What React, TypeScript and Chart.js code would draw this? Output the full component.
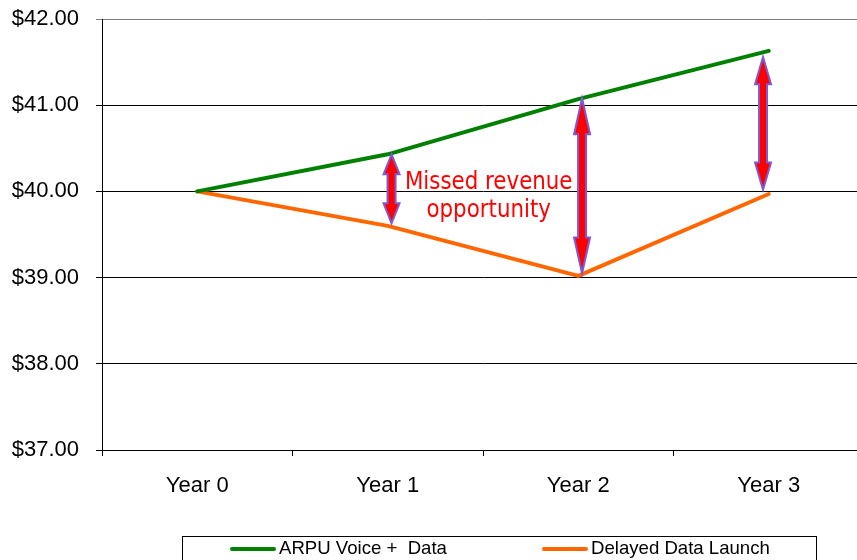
import React, { useEffect, useRef } from "react";
import { Chart, registerables } from "chart.js";

Chart.register(...registerables);

const categories = ["Year 0", "Year 1", "Year 2", "Year 3"];
const arpuVoiceData = [40.0, 40.43, 41.07, 41.63];
const delayedDataLaunch = [40.0, 39.6, 39.02, 39.97];
const seriesLabels = ["ARPU Voice +  Data", "Delayed Data Launch"];
const yTicks = [37, 38, 39, 40, 41, 42];

// Annotation arrows: category position, top value, bottom value
const arrowCategory = [1.02, 2.02, 2.97];
const arrowTop = [40.43, 41.08, 41.56];
const arrowBottom = [39.63, 39.05, 40.02];
const noteLines = ["Missed revenue", "opportunity"];
const noteCategory = 1.53;
const noteValue = 40.03;

const GREEN = "#008000";
const ORANGE = "#FF6600";

const annotationPlugin = {
  id: "annotations",
  afterDatasetsDraw(chart: any) {
    const ctx = chart.ctx as CanvasRenderingContext2D;
    const xs = chart.scales.x;
    const ys = chart.scales.y;
    ctx.save();
    for (let i = 0; i < arrowCategory.length; i++) {
      const x = xs.getPixelForValue(arrowCategory[i]);
      const yt = ys.getPixelForValue(arrowTop[i]);
      const yb = ys.getPixelForValue(arrowBottom[i]);
      const len = yb - yt;
      const hl = Math.max(len * 0.205, 20);
      const hw = 8;
      const sw = 4;
      ctx.beginPath();
      ctx.moveTo(x, yt);
      ctx.lineTo(x + hw, yt + hl);
      ctx.lineTo(x + sw, yt + hl);
      ctx.lineTo(x + sw, yb - hl);
      ctx.lineTo(x + hw, yb - hl);
      ctx.lineTo(x, yb);
      ctx.lineTo(x - hw, yb - hl);
      ctx.lineTo(x - sw, yb - hl);
      ctx.lineTo(x - sw, yt + hl);
      ctx.lineTo(x - hw, yt + hl);
      ctx.closePath();
      ctx.fillStyle = "#FF0000";
      ctx.fill();
      ctx.lineWidth = 2;
      ctx.strokeStyle = "#7D5BD8";
      ctx.lineJoin = "miter";
      ctx.stroke();
    }
    // note text
    const tx = xs.getPixelForValue(noteCategory);
    const ty = ys.getPixelForValue(noteValue);
    ctx.fillStyle = "#FF0000";
    ctx.font = "24px 'DejaVu Sans'";
    ctx.textAlign = "center";
    ctx.textBaseline = "alphabetic";
    noteLines.forEach((line, k) => {
      ctx.save();
      ctx.translate(tx, ty + k * 28);
      ctx.scale(0.89, 1);
      ctx.fillText(line, 0, 0);
      ctx.restore();
    });
    ctx.restore();
  },
  afterDraw(chart: any) {
    const ctx = chart.ctx as CanvasRenderingContext2D;
    ctx.save();
    // legend box
    ctx.strokeStyle = "#000";
    ctx.lineWidth = 1;
    ctx.strokeRect(182.5, 536.5, 634, 40);
    const items = [
      { x: 230, color: GREEN, label: chart.data.datasets[0].label },
      { x: 542, color: ORANGE, label: chart.data.datasets[1].label },
    ];
    ctx.font = "18.6px 'Liberation Sans', Arial, sans-serif";
    ctx.textBaseline = "alphabetic";
    ctx.textAlign = "left";
    items.forEach((it) => {
      ctx.strokeStyle = it.color;
      ctx.lineWidth = 4;
      ctx.lineCap = "round";
      ctx.beginPath();
      ctx.moveTo(it.x + 2, 549);
      ctx.lineTo(it.x + 44, 549);
      ctx.stroke();
      ctx.fillStyle = "#000";
      ctx.fillText(it.label, it.x + 49, 554);
    });
    ctx.restore();
  },
};

export default function App() {
  const ref = useRef<HTMLCanvasElement | null>(null);
  useEffect(() => {
    if (!ref.current) return;
    const chart = new Chart(ref.current, {
      type: "line",
      data: {
        labels: categories,
        datasets: [
          {
            label: seriesLabels[0],
            data: arpuVoiceData,
            borderColor: GREEN,
            backgroundColor: GREEN,
            borderWidth: 4,
            pointRadius: 0,
            tension: 0,
            borderCapStyle: "round",
            borderJoinStyle: "round",
          },
          {
            label: seriesLabels[1],
            data: delayedDataLaunch,
            borderColor: ORANGE,
            backgroundColor: ORANGE,
            borderWidth: 4,
            pointRadius: 0,
            tension: 0,
            borderCapStyle: "round",
            borderJoinStyle: "round",
          },
        ],
      },
      options: {
        responsive: false,
        animation: false,
        layout: { padding: { top: 19, right: 6, left: 0, bottom: 0 } },
        plugins: { legend: { display: false }, tooltip: { enabled: false } },
        scales: {
          x: {
            type: "category",
            offset: true,
            grid: {
              offset: true,
              drawOnChartArea: false,
              drawTicks: true,
              tickLength: 6,
              color: "#000",
            },
            border: { display: true, color: "#000", width: 1 },
            ticks: {
              color: "#000",
              padding: 17,
              font: { family: "'Liberation Sans', Arial, sans-serif", size: 22 },
            },
            afterFit: (s: any) => {
              s.height = 110;
              s.paddingLeft = 0;
              s.paddingRight = 0;
            },
          },
          y: {
            min: yTicks[0],
            max: yTicks[yTicks.length - 1],
            afterBuildTicks: (s: any) => {
              s.ticks = yTicks.map((v) => ({ value: v }));
            },
            grid: {
              color: (c: any) => (c.tick && c.tick.value === 42 ? "#808080" : "#000"),
              tickLength: 6,
              drawTicks: true,
            },
            border: { display: true, color: "#000", width: 1 },
            ticks: {
              color: "#000",
              padding: 17,
              font: { family: "'Liberation Sans', Arial, sans-serif", size: 22 },
              callback: (v: any) => "$" + Number(v).toFixed(2),
            },
            afterFit: (s: any) => {
              s.width = 102;
              s.paddingTop = 0;
              s.paddingBottom = 0;
            },
          },
        },
      },
      plugins: [annotationPlugin],
    } as any);
    return () => chart.destroy();
  }, []);
  return (
    <div
      style={{
        position: "fixed",
        left: 0,
        top: 0,
        width: 857,
        height: 560,
        overflow: "hidden",
        background: "#fff",
      }}
    >
      <canvas ref={ref} width={870} height={560} style={{ display: "block" }} />
    </div>
  );
}
